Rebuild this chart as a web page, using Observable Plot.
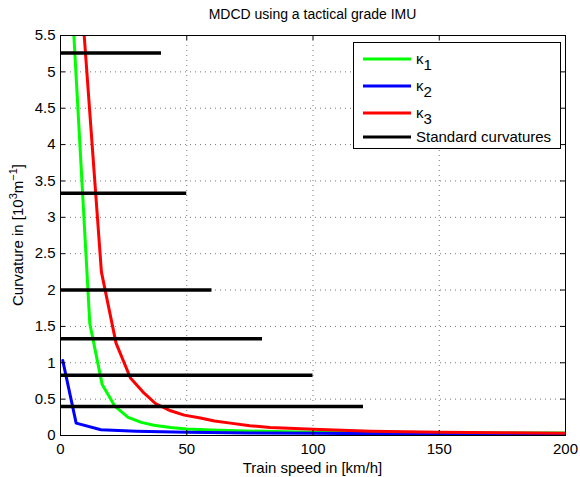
<!DOCTYPE html>
<html>
<head>
<meta charset="utf-8">
<script src="https://cdn.jsdelivr.net/npm/d3@7"></script>
<script src="https://cdn.jsdelivr.net/npm/@observablehq/plot@0.6"></script>
<style>
  body { margin: 0; background: #fff; }
  svg text { font-family: "Liberation Sans", Arial, Helvetica, sans-serif; }
</style>
</head>
<body>
<div id="chart"></div>
<script>
// ---- data ----
const k1Speed = [1, 11.6, 16.5, 21.6, 26.8, 32, 37, 43.6, 50, 60, 70, 85, 100, 125, 150, 175, 200];
const k1Curv  = [8.2, 1.54, 0.70, 0.40, 0.25, 0.18, 0.14, 0.11, 0.09, 0.075, 0.065, 0.055, 0.045, 0.04, 0.038, 0.036, 0.035];

const k2Speed = [0.9, 6.2, 16, 30, 50, 75, 100, 150, 200];
const k2Curv  = [1.03, 0.17, 0.08, 0.06, 0.045, 0.035, 0.03, 0.02, 0.015];

const k3Speed = [1, 16.2, 22.0, 27.7, 32.6, 37.6, 43.6, 49, 55.4, 61, 67.3, 75, 83, 100, 123, 150, 175, 200];
const k3Curv  = [9.5, 2.25, 1.27, 0.79, 0.60, 0.44, 0.34, 0.28, 0.24, 0.20, 0.17, 0.135, 0.11, 0.085, 0.06, 0.045, 0.037, 0.03];

const stdCurv  = [5.26, 3.33, 2.0, 1.33, 0.83, 0.4];
const stdSpeed = [40, 50, 60, 80, 100, 120];

const xTicks = [0, 50, 100, 150, 200];
const yTicks = [0, 0.5, 1, 1.5, 2, 2.5, 3, 3.5, 4, 4.5, 5, 5.5];

const titleText = "MDCD using a tactical grade IMU";
const legendLabels = ["κ1", "κ2", "κ3", "Standard curvatures"];
const colors = ["#00ff00", "#0000ff", "#ff0000", "#000000"];

// ---- build tables ----
const toRows = (xs, ys) => xs.map((x, i) => ({x, y: ys[i]}));
const k1 = toRows(k1Speed, k1Curv);
const k2 = toRows(k2Speed, k2Curv);
const k3 = toRows(k3Speed, k3Curv);
const std = stdCurv.map((c, i) => ({c, v: stdSpeed[i]}));

const W = 580, H = 477;
const mL = 60, mR = 15, mT = 35, mB = 42;
const pw = W - mL - mR, ph = H - mT - mB;
const grid = {stroke: "#777", strokeWidth: 1, strokeDasharray: "1,4"};

const plot = Plot.plot({
  width: W, height: H,
  marginLeft: mL, marginRight: mR, marginTop: mT, marginBottom: mB,
  style: {fontFamily: "Liberation Sans, Arial, sans-serif", fontSize: "15px", background: "#fff", color: "#000"},
  x: {domain: [0, 200], ticks: xTicks},
  y: {domain: [0, 5.5], ticks: yTicks},
  marks: [
    Plot.ruleX(xTicks.slice(1, -1), {x: d => d, ...grid}),
    Plot.ruleY(yTicks.slice(1, -1), {y: d => d, ...grid}),
    Plot.line(k1, {x: "x", y: "y", stroke: colors[0], strokeWidth: 3, clip: true}),
    Plot.line(k2, {x: "x", y: "y", stroke: colors[1], strokeWidth: 3, clip: true}),
    Plot.line(k3, {x: "x", y: "y", stroke: colors[2], strokeWidth: 3, clip: true}),
    Plot.ruleY(std, {y: "c", x1: 0, x2: "v", stroke: colors[3], strokeWidth: 3.5}),
    // inward ticks
    Plot.tickX(xTicks, {x: d => d, insetTop: ph - 5, stroke: "#000"}),
    Plot.tickX(xTicks, {x: d => d, insetBottom: ph - 5, stroke: "#000"}),
    Plot.tickY(yTicks, {y: d => d, insetRight: pw - 5, stroke: "#000"}),
    Plot.tickY(yTicks, {y: d => d, insetLeft: pw - 5, stroke: "#000"}),
    Plot.frame({stroke: "#000", strokeWidth: 1}),
    Plot.axisX(xTicks, {tickSize: 0, tickPadding: 8, fontSize: 15, label: null}),
    Plot.axisY(yTicks, {tickSize: 0, tickPadding: 5, fontSize: 15, label: null, tickFormat: d => String(d)})
  ]
});

document.getElementById("chart").appendChild(plot);
const svg = d3.select(plot);

// title
svg.append("text").attr("x", mL + pw / 2).attr("y", 19).attr("text-anchor", "middle")
  .attr("font-size", 14).attr("fill", "#000").text(titleText);

// x label
svg.append("text").attr("x", mL + pw / 2).attr("y", 473).attr("text-anchor", "middle")
  .attr("font-size", 15).attr("fill", "#000").text("Train speed in [km/h]");

// y label
const yl = svg.append("text").attr("transform", `translate(23,${mT + ph / 2}) rotate(-90)`)
  .attr("text-anchor", "middle").attr("font-size", 15).attr("fill", "#000");
yl.append("tspan").text("Curvature in [10");
yl.append("tspan").attr("dy", -6).attr("font-size", 11).text("3");
yl.append("tspan").attr("dy", 6).text("m");
yl.append("tspan").attr("dy", -6).attr("font-size", 11).text("−1");
yl.append("tspan").attr("dy", 6).text("]");

// legend
const lg = svg.append("g");
lg.append("rect").attr("x", 353.5).attr("y", 42.5).attr("width", 207).attr("height", 106)
  .attr("fill", "#fff").attr("stroke", "#000").attr("stroke-width", 1);
const rowsY = [59, 86, 113, 137];
legendLabels.forEach((lab, i) => {
  lg.append("line").attr("x1", 363).attr("x2", 411).attr("y1", rowsY[i]).attr("y2", rowsY[i])
    .attr("stroke", colors[i]).attr("stroke-width", 3);
  const t = lg.append("text").attr("x", 416).attr("y", rowsY[i] + 5).attr("text-anchor", "start")
    .attr("font-size", 15).attr("fill", "#000");
  if (i < 3) {
    t.append("tspan").text(lab[0]);
    t.append("tspan").attr("dy", 6).attr("font-size", 15).text(lab.slice(1));
  } else {
    t.text(lab);
  }
});
</script>
</body>
</html>
